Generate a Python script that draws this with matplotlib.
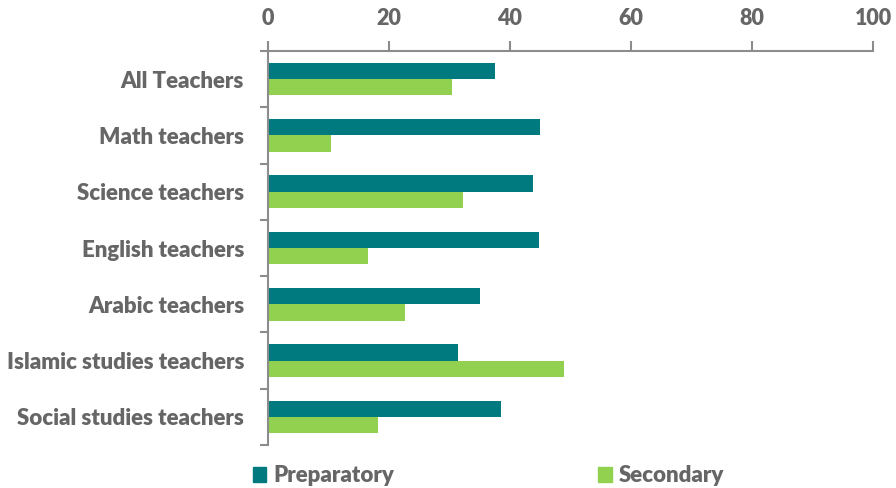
import matplotlib.pyplot as plt
import numpy as np
from matplotlib.patches import Patch

categories = [
    "All Teachers",
    "Math teachers",
    "Science teachers",
    "English teachers",
    "Arabic teachers",
    "Islamic studies teachers",
    "Social studies teachers",
]
preparatory = [37.6, 45.0, 43.9, 44.9, 35.0, 31.4, 38.6]
secondary = [30.5, 10.4, 32.3, 16.5, 22.7, 48.9, 18.3]
x_ticks = [0, 20, 40, 60, 80, 100]

TEAL = "#007A7E"
GREEN = "#92D050"
TEXT = "#666666"
AXIS = "#8C8C8C"

plt.rcParams["font.family"] = ["Lato", "DejaVu Sans"]
plt.rcParams["font.weight"] = "heavy"

fig = plt.figure(figsize=(8.96, 4.88), dpi=100)
ax = fig.add_axes([0.2988, 0.0881, 0.6755, 0.8074])

y = np.arange(len(categories))
h = 0.29
ax.barh(y - h / 2, preparatory, height=h, color=TEAL, label="Preparatory")
ax.barh(y + h / 2, secondary, height=h, color=GREEN, label="Secondary")

ax.set_xlim(0, 100)
ax.set_ylim(len(categories) - 0.5, -0.5)
ax.xaxis.tick_top()
ax.set_xticks(x_ticks)
ax.set_xticklabels([str(t) for t in x_ticks])
ax.tick_params(axis="x", direction="out", length=7, width=1.5, color=AXIS,
               labelsize=15.5, labelcolor=TEXT, pad=9)

ax.set_yticks(y)
ax.set_yticklabels(categories)
ax.set_yticks(np.arange(len(categories) + 1) - 0.5, minor=True)
ax.tick_params(axis="y", which="major", length=0, labelsize=16,
               labelcolor=TEXT, pad=17)
ax.tick_params(axis="y", which="minor", direction="out", length=6,
               width=1.5, color=AXIS)

for side in ["right", "bottom"]:
    ax.spines[side].set_visible(False)
for side in ["left", "top"]:
    ax.spines[side].set_color(AXIS)
    ax.spines[side].set_linewidth(1.5)

handles = [Patch(color=TEAL, label="Preparatory"),
           Patch(color=GREEN, label="Secondary")]
fig.legend(handles=handles, loc="center", bbox_to_anchor=(0.545, 0.025),
           ncol=2, frameon=False, fontsize=16, labelcolor=TEXT,
           handlelength=0.6, handleheight=0.6, handletextpad=0.3,
           columnspacing=9.2)

fig.savefig("out.png", dpi=100)
